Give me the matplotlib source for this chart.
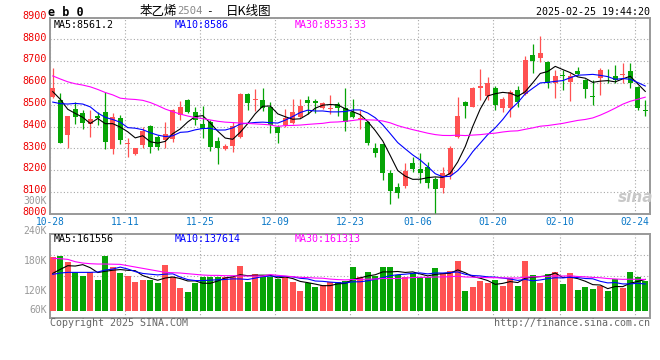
import matplotlib
matplotlib.use("Agg")
import matplotlib.pyplot as plt
from matplotlib.transforms import ScaledTranslation
import numpy as np
import pandas as pd

# ---- data (eb0 styrene 2504) ----
opens = [8534, 8522, 8361, 8480, 8463, 8411, 8447, 8468, 8295, 8440,
         8319, 8274, 8315, 8402, 8352, 8338, 8343, 8453, 8522, 8466,
         8411, 8422, 8335, 8295, 8311, 8350, 8549, 8522, 8522, 8488,
         8400, 8405, 8417, 8445, 8522, 8517, 8483, 8481, 8503, 8483,
         8468, 8436, 8422, 8300, 8320, 8185, 8124, 8127, 8234, 8204,
         8216, 8159, 8117, 8178, 8350, 8514, 8491, 8578, 8540, 8578,
         8483, 8483, 8567, 8549, 8728, 8713, 8694, 8601, 8635, 8606,
         8654, 8613, 8540, 8621, 8646, 8632, 8636, 8654, 8580, 8474]
highs = [8668, 8552, 8450, 8514, 8476, 8476, 8468, 8560, 8460, 8452,
         8345, 8302, 8400, 8405, 8360, 8420, 8480, 8517, 8528, 8491,
         8494, 8430, 8353, 8318, 8420, 8552, 8552, 8572, 8575, 8514,
         8405, 8480, 8525, 8525, 8540, 8527, 8512, 8544, 8514, 8578,
         8525, 8476, 8425, 8326, 8322, 8200, 8142, 8231, 8261, 8277,
         8239, 8170, 8216, 8311, 8537, 8515, 8583, 8662, 8628, 8586,
         8537, 8567, 8586, 8725, 8778, 8815, 8702, 8659, 8659, 8644,
         8672, 8617, 8613, 8667, 8662, 8682, 8690, 8690, 8586, 8522]
lows = [8530, 8323, 8300, 8410, 8389, 8353, 8405, 8295, 8272, 8320,
        8262, 8270, 8300, 8277, 8293, 8300, 8328, 8430, 8460, 8407,
        8346, 8286, 8230, 8290, 8285, 8345, 8474, 8470, 8470, 8372,
        8323, 8398, 8410, 8440, 8457, 8463, 8480, 8457, 8448, 8381,
        8440, 8387, 8315, 8259, 8155, 8044, 8071, 8120, 8191, 8142,
        8117, 8005, 8094, 8158, 8345, 8438, 8488, 8522, 8522, 8476,
        8468, 8442, 8491, 8545, 8647, 8697, 8575, 8529, 8567, 8518,
        8638, 8529, 8499, 8545, 8598, 8600, 8598, 8575, 8476, 8448]
closes = [8575, 8326, 8448, 8445, 8417, 8433, 8440, 8330, 8445, 8338,
          8326, 8300, 8379, 8307, 8307, 8366, 8476, 8488, 8468, 8430,
          8387, 8307, 8300, 8311, 8402, 8548, 8506, 8526, 8483, 8407,
          8368, 8440, 8468, 8494, 8509, 8509, 8509, 8484, 8483, 8422,
          8442, 8440, 8326, 8277, 8185, 8106, 8096, 8197, 8204, 8188,
          8142, 8113, 8185, 8300, 8448, 8494, 8575, 8586, 8598, 8499,
          8525, 8556, 8514, 8705, 8702, 8739, 8601, 8632, 8632, 8632,
          8641, 8571, 8537, 8659, 8644, 8613, 8639, 8598, 8483, 8472]
volumes = [277200, 284100, 251400, 198000, 179100, 198000, 158400, 284100, 225600, 196300,
           179100, 148100, 158400, 158400, 142900, 235900, 175600, 117100, 96400, 144600,
           175600, 174000, 176500, 175000, 173500, 230700, 148100, 189400, 175600, 172200,
           161900, 172200, 148100, 101600, 141200, 124000, 130900, 149800, 148100, 151500,
           225600, 172200, 199800, 179100, 225600, 225600, 182500, 175600, 192900, 172200,
           175600, 220400, 196300, 204900, 256600, 101600, 122300, 153300, 144600, 158400,
           127400, 168800, 127400, 256600, 184300, 144600, 189400, 199800, 137800, 194600,
           106800, 122300, 111900, 127400, 101600, 161900, 118800, 199800, 173900, 153300]

# moving averages before the window fills (history not shown in the chart)
ma5_head = [8560, 8525, 8479, 8460]
ma10_head = [8512, 8505, 8503, 8506, 8503, 8490, 8462, 8442, 8432]
ma30_head = [8632, 8618, 8605, 8596, 8590, 8582, 8570, 8556, 8545, 8530,
             8526, 8524, 8520, 8510, 8496, 8480, 8468, 8457, 8448, 8441,
             8436, 8430, 8424, 8420, 8418, 8416, 8414, 8412, 8410]
vma5_head = [192900, 213500, 232500, 230700]
vma10_head = [187700, 194600, 198000, 198000, 198000, 198000, 199800, 210000, 215000]
vma30_head = [270400, 268600, 265200, 253100, 246200, 242800, 241100, 241100, 240200, 239400,
              232500, 225600, 218700, 211800, 204900, 198000, 196300, 194600, 191100, 187700,
              184300, 182500, 182500, 180800, 180800, 179100, 179100, 179100, 179100]

tick_idx = [0, 10, 20, 30, 40, 49, 59, 68, 78]
tick_labels = ["10-28", "11-11", "11-25", "12-09", "12-23", "01-06", "01-20", "02-10", "02-24"]
price_ticks = list(range(8000, 8901, 100))
vol_labels = ["300K", "240K", "180K", "120K", "60K"]
vol_label_y = [200.5, 230.7, 260.7, 290.7, 310.3]   # pixel rows of the labels

ma_texts = ["MA5:8561.2", "MA10:8586", "MA30:8533.33"]
vma_texts = ["MA5:161556", "MA10:137614", "MA30:161313"]


def with_head(values, n, head):
    s = pd.Series(values, dtype=float).rolling(n).mean()
    s.iloc[:len(head)] = head
    return s.values


ma5 = with_head(closes, 5, ma5_head)
ma10 = with_head(closes, 10, ma10_head)
ma30 = with_head(closes, 30, ma30_head)
vma5 = with_head(volumes, 5, vma5_head)
vma10 = with_head(volumes, 10, vma10_head)
vma30 = with_head(volumes, 30, vma30_head)

# ---- layout in pixels ----
W, H = 660, 360
MONO = "DejaVu Sans Mono"
RED = "#ff5252"
GREEN = "#06a406"
GRID = "#a8a8a8"
FRAME = "#999999"


def fx(x):
    return x / W


def fy(y):
    return 1 - y / H


fig = plt.figure(figsize=(W / 100, H / 100), dpi=100)
fig.patch.set_facecolor("white")

ax = fig.add_axes([fx(50), fy(213.7), 600 / W, (213.7 - 17.5) / H])
axv = fig.add_axes([fx(50), fy(318.3), 600 / W, (318.3 - 234.3) / H])

x = np.arange(len(closes))
off = 0.367
colors = [RED if c >= o else GREEN for o, c in zip(opens, closes)]

# candles
for i in x:
    ax.vlines(i, lows[i], highs[i], color=colors[i], lw=0.9, zorder=3)
    body = max(abs(closes[i] - opens[i]), 2)
    ax.bar(i, body, bottom=min(opens[i], closes[i]), width=0.73,
           color=colors[i], lw=0, zorder=4)

ax.plot(x, ma5, color="black", lw=0.8, zorder=5)
ax.plot(x, ma10, color="#0000ff", lw=0.8, zorder=5)
ax.plot(x, ma30, color="#ff00ff", lw=0.8, zorder=5)

ax.set_xlim(-off, len(x) - off)
ax.set_ylim(8000, 8900)
ax.set_yticks(price_ticks)
ax.set_yticklabels([str(p) for p in price_ticks], family=MONO, fontsize=7.3, color="#ee0000")
ax.set_xticks([t - off for t in tick_idx])
ax.set_xticklabels(tick_labels, family=MONO, fontsize=6.9, color="#0a78c8")
ax.tick_params(length=0, pad=2.5)
ax.grid(True, color=GRID, lw=0.8, linestyle=(0, (1, 2)))
ax.set_axisbelow(True)
# price labels sit a little above their grid lines
lift = ScaledTranslation(0, 2.0 / 72, fig.dpi_scale_trans)
for lbl in ax.get_yticklabels():
    lbl.set_transform(lbl.get_transform() + lift)

# volume
axv.bar(x, volumes, width=0.8, color=colors, lw=0, zorder=3)
axv.plot(x, vma5, color="black", lw=0.8, zorder=5)
axv.plot(x, vma10, color="#0000ff", lw=0.8, zorder=5)
axv.plot(x, vma30, color="#ff00ff", lw=0.8, zorder=5)
vlo, vhi = -39300, 394700
axv.set_xlim(-off, len(x) - off)
axv.set_ylim(vlo, vhi)
axv.set_yticks([vlo + k * (vhi - vlo) / 4 for k in (1, 2, 3)])
axv.set_xticks([t - off for t in tick_idx])
axv.set_yticklabels([])
axv.set_xticklabels([])
axv.tick_params(length=0)
axv.grid(True, color=GRID, lw=0.8, linestyle=(0, (1, 2)))
axv.set_axisbelow(True)

for a in (ax, axv):
    for sp in a.spines.values():
        sp.set_color(FRAME)
        sp.set_linewidth(1.4)

for lab, yy in zip(vol_labels, vol_label_y):
    fig.text(fx(47), fy(yy), lab, family=MONO, fontsize=7.0, color="#999999",
             ha="right", va="center")

# MA captions
ma_colors = ["black", "#0000ff", "#ff00ff"]
for txt, col, xx in zip(ma_texts, ma_colors, [54, 175, 295]):
    fig.text(fx(xx), fy(25.5), txt, family=MONO, fontsize=7.2, color=col, va="center")
for txt, col, xx in zip(vma_texts, ma_colors, [54, 175, 295]):
    fig.text(fx(xx), fy(238.5), txt, family=MONO, fontsize=7.2, color=col, va="center")

# header
cjk = ["Noto Sans CJK SC", "DejaVu Sans"]
fig.text(fx(48), fy(12), "e b 0", family=MONO, fontsize=8.5, weight="bold", va="center")
fig.text(fx(140), fy(11.5), "苯乙烯", family=cjk, fontsize=9, va="center")
fig.text(fx(177), fy(11.5), "2504", family=MONO, fontsize=7.6, color="#888888", va="center")
fig.text(fx(206), fy(11.5), "-", family=MONO, fontsize=8, va="center")
fig.text(fx(226), fy(11.5), "日K线图", family=cjk, fontsize=9, va="center")
fig.text(fx(650), fy(12), "2025-02-25 19:44:20", family=MONO, fontsize=7.2,
         ha="right", va="center")

# footer and watermark
fig.text(fx(50), fy(323.5), "Copyright 2025 SINA.COM", family=MONO, fontsize=7.2,
         color="#666666", va="center")
fig.text(fx(650), fy(323.5), "http://finance.sina.com.cn", family=MONO, fontsize=7.2,
         color="#666666", ha="right", va="center")
fig.text(fx(636), fy(197), "sina", fontsize=11, style="italic", weight="bold",
         color="#c8c8c8", ha="center", va="center")

fig.savefig("out.png", dpi=100, facecolor="white")
